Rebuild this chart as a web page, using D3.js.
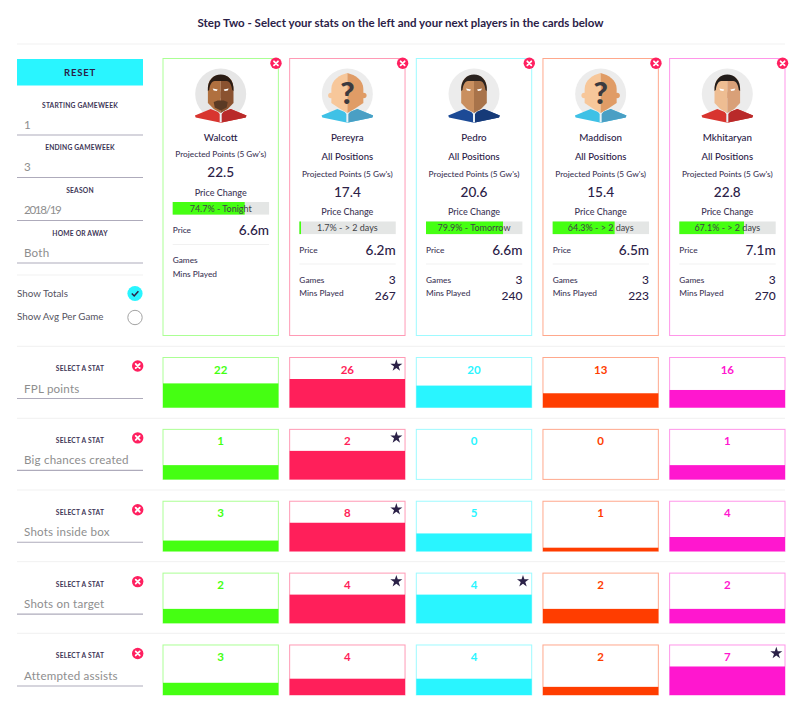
<!DOCTYPE html>
<html>
<head>
<meta charset="utf-8">
<script src="https://cdn.jsdelivr.net/npm/d3@7"></script>
<style>
  html, body { margin: 0; padding: 0; background: #fff; }
  svg { display: block; }
  text { font-family: Lato, "Open Sans", sans-serif; fill: #2b2147; }
  .field { fill: #8e8e8e; font-size: 11.6px; letter-spacing: .2px; }
  .small { font-size: 6.7px; font-weight: 700; text-anchor: middle; letter-spacing: .2px; fill: #3d3556; }
  .lab { font-size: 8.3px; font-weight: 500; fill: #3d3556; }
  .big { font-size: 13.6px; font-weight: 500; }
</style>
</head>
<body>
<div id="chart"></div>
<script>
// player cards
var players = ["Walcott", "Pereyra", "Pedro", "Maddison", "Mkhitaryan"];
var positions = [null, "All Positions", "All Positions", "All Positions", "All Positions"];
var projected = ["22.5", "17.4", "20.6", "15.4", "22.8"];
var changePct = [74.7, 1.7, 79.9, 64.3, 67.1];
var changeWhen = ["Tonight", "> 2 days", "Tomorrow", "> 2 days", "> 2 days"];
var prices = ["6.6m", "6.2m", "6.6m", "6.5m", "7.1m"];
var games = [null, 3, 3, 3, 3];
var mins = [null, 267, 240, 223, 270];

// stat rows
var statNames = ["FPL points", "Big chances created", "Shots inside box", "Shots on target", "Attempted assists"];
var fplPoints = [22, 26, 20, 13, 16];
var bigChances = [1, 2, 0, 0, 1];
var shotsInBox = [3, 8, 5, 1, 4];
var shotsOnTarget = [2, 4, 4, 2, 2];
var attemptedAssists = [3, 4, 4, 2, 7];
var statValues = [fplPoints, bigChances, shotsInBox, shotsOnTarget, attemptedAssists];

// left hand filters
var filterLabels = ["STARTING GAMEWEEK", "ENDING GAMEWEEK", "SEASON", "HOME OR AWAY"];
var filterValues = ["1", "3", "2018/19", "Both"];

var playerColors = ["#45ff12", "#ff1f5a", "#29f5ff", "#ff3d00", "#ff17cf"];
var faces = [
  {bg: "#e6e6e6", light: "#b0703f", dark: "#8a5230", hair: "#2a1c14", shirtL: "#d8352f", shirtD: "#b92a2a", beard: "#5b3a24"},
  {bg: "#ececec", light: "#f7c79a", dark: "#e09c66", mystery: true, shirtL: "#3fc1e6", shirtD: "#4a9fc4"},
  {bg: "#ececec", light: "#c98f5f", dark: "#a8734a", hair: "#2a2320", shirtL: "#1c4a96", shirtD: "#163a78"},
  {bg: "#ececec", light: "#f7c79a", dark: "#e09c66", mystery: true, shirtL: "#3fc1e6", shirtD: "#4a9fc4"},
  {bg: "#ececec", light: "#eebd92", dark: "#d9a078", hair: "#231d1b", shirtL: "#d8352f", shirtD: "#b92a2a"}
];

var svgWidth = 800;
var svgHeight = 705;
var ink = "#2b2147";
var red = "#ff2060";

var svg = d3.select("#chart").append("svg")
  .attr("width", svgWidth)
  .attr("height", svgHeight);

var xScale = d3.scaleBand().domain(players).range([163, 785]).paddingInner(0.089);
var yScale = d3.scaleBand().domain(statNames).range([357.5, 695]).paddingInner(0.304);
var barW = xScale.bandwidth() - 19;
// price change bar, 0 to 100 percent
var changeScale = d3.scaleLinear().domain([0, 100]).range([0, barW]);

function hline(x1, x2, y, color, w) {
  svg.append("line").attr("x1", x1).attr("x2", x2).attr("y1", y).attr("y2", y)
    .attr("stroke", color).attr("stroke-width", w);
}

function removeBtn(g, cx, cy) {
  g.append("circle").attr("cx", cx).attr("cy", cy).attr("r", 5.7).attr("fill", red);
  g.append("path").attr("d", `M${cx - 2},${cy - 2}L${cx + 2},${cy + 2}M${cx + 2},${cy - 2}L${cx - 2},${cy + 2}`)
    .attr("stroke", "#fff").attr("stroke-width", 1.8).attr("stroke-linecap", "round");
}

// title
svg.append("text").attr("x", 400.5).attr("y", 27).attr("text-anchor", "middle")
  .attr("font-size", 11.5).attr("font-weight", 700).attr("letter-spacing", 0.02)
  .text("Step Two - Select your stats on the left and your next players in the cards below");
hline(17, 785, 44, "#f1f1f1", 1);

// reset button
svg.append("rect").attr("x", 17).attr("y", 59).attr("width", 126).attr("height", 26.5).attr("fill", "#29f5ff");
svg.append("text").attr("x", 80).attr("y", 75.5).attr("text-anchor", "middle")
  .attr("font-size", 9.5).attr("font-weight", 700).attr("letter-spacing", 0.8).text("RESET");

// filters
var filterY = [107.5, 150, 192.5, 235.5];
var filterValueY = [129, 171, 214, 257];
var filterLineY = [135, 177.5, 220.5, 263];
filterLabels.forEach(function(label, i) {
  svg.append("text").attr("class", "small").attr("x", 80).attr("y", filterY[i]).text(label);
  svg.append("text").attr("class", "field").attr("x", 24).attr("y", filterValueY[i])
    .attr("textLength", label == "SEASON" ? 38 : null)
    .text(filterValues[i]);
  hline(17, 143, filterLineY[i], "#aeabbb", 1.2);
});
hline(17, 143, 275, "#f1f1f1", 1);

// totals / avg toggles
svg.append("text").attr("x", 17).attr("y", 296.5).attr("font-size", 9.8).style("fill", "#55535f").text("Show Totals");
svg.append("text").attr("x", 17).attr("y", 320).attr("font-size", 9.8).style("fill", "#55535f").text("Show Avg Per Game");
svg.append("circle").attr("cx", 135).attr("cy", 293.5).attr("r", 7.6).attr("fill", "#29f5ff");
svg.append("path").attr("d", "M131.8,293.5L134.2,296L138.4,291.2").attr("fill", "none").attr("stroke", ink).attr("stroke-width", 1.5);
svg.append("circle").attr("cx", 135).attr("cy", 317.5).attr("r", 7.2).attr("fill", "#fff").attr("stroke", "#a3a3a3").attr("stroke-width", 1);

// cartoon head, drawn around the middle of the photo circle
function portrait(g, f) {
  g.append("circle").attr("r", 25.5).attr("fill", f.bg);
  if (f.mystery) {
    g.append("circle").attr("cx", -16.4).attr("cy", 1.5).attr("r", 2.8).attr("fill", f.light);
    g.append("circle").attr("cx", 16.4).attr("cy", 1.5).attr("r", 2.8).attr("fill", f.dark);
  }
  g.append("path").attr("d", "M-25.8,21.5L-10,15L0,19L10,15L25.8,21.5L25,23.5L1,28.5L0,28.5L-1,28.5L-25,23.5Z").attr("fill", f.shirtL);
  g.append("path").attr("d", "M0,19L10,15L25.8,21.5L25,23.5L1,28.5Z").attr("fill", f.shirtD);
  g.append("path").attr("d", "M-5,15L0,19L5,15L1,20V28H-1V20Z").attr("fill", "#e8f0f4");
  var w = f.mystery ? 16 : 12.8;
  g.append("path").attr("d", `M0,${f.mystery ? -21 : -19}C-8,-19 -${w},-14 -${w},-5V9L-7,15L0,19Z`).attr("fill", f.light);
  g.append("path").attr("d", `M0,${f.mystery ? -21 : -19}C8,-19 ${w},-14 ${w},-5V9L7,15L0,19Z`).attr("fill", f.dark);
  if (f.mystery) {
    g.append("text").attr("x", 0).attr("y", 10).attr("text-anchor", "middle")
      .attr("font-size", 31).attr("font-weight", 900).style("fill", "#3b3a40").text("?");
    return;
  }
  g.append("path").attr("d", "M-12.8,-3C-13.5,-14 -7,-19.5 0,-19.5C7,-19.5 13.5,-14 12.8,-3L11.5,-4C11,-9 9,-13 6,-13H-6C-9,-13 -11,-9 -11.5,-4Z").attr("fill", f.hair);
  g.append("path").attr("d", "M-8,-5.5L-3,-4.5L-4,-3L-7,-3.5ZM8,-5.5L3,-4.5L4,-3L7,-3.5Z").attr("fill", "#fff");
  if (f.beard) {
    g.append("path").attr("d", "M-7,8L-3,6.5H3L7,8L6,13.5L0,16.5L-6,13.5Z").attr("fill", f.beard);
  }
  g.append("path").attr("d", "M0,-3L2.5,4H0Z").attr("fill", f.dark);
}

// player cards
players.forEach(function(name, i) {
  var x0 = xScale(name);
  var w = xScale.bandwidth();
  var color = playerColors[i];
  var cx = x0 + w / 2;
  var left = x0 + 9.7;
  var right = left + barW;
  var shift = positions[i] ? 19.5 : 0;
  var g = svg.append("g");

  g.append("rect").attr("x", x0).attr("y", 58.5).attr("width", w).attr("height", 277)
    .attr("fill", "#fff").attr("stroke", color).attr("stroke-opacity", 0.45).attr("stroke-width", 1);
  removeBtn(g, x0 + w - 2.4, 63.3);

  portrait(g.append("g").attr("transform", `translate(${cx},94)`), faces[i]);

  g.append("text").attr("x", cx).attr("y", 140.5).attr("text-anchor", "middle")
    .attr("font-size", 9.8).attr("font-weight", 500).text(name);
  if (positions[i]) {
    g.append("text").attr("x", cx).attr("y", 160).attr("text-anchor", "middle")
      .attr("font-size", 9.5).attr("font-weight", 500).text(positions[i]);
  }
  g.append("text").attr("x", cx).attr("y", 157 + shift).attr("text-anchor", "middle")
    .attr("class", "lab").text("Projected Points (5 Gw's)");
  g.append("text").attr("x", cx).attr("y", 177 + shift).attr("text-anchor", "middle")
    .attr("class", "big").text(projected[i]);
  g.append("text").attr("x", cx).attr("y", 195.5 + shift).attr("text-anchor", "middle")
    .attr("class", "lab").style("font-size", "9px").text("Price Change");

  g.append("rect").attr("x", left).attr("y", 202 + shift).attr("width", barW).attr("height", 12.6).attr("fill", "#e4e6e5");
  g.append("rect").attr("x", left).attr("y", 202 + shift).attr("width", changeScale(changePct[i])).attr("height", 12.6).attr("fill", playerColors[0]);
  g.append("text").attr("x", cx).attr("y", 211.5 + shift).attr("text-anchor", "middle")
    .attr("font-size", 9).style("fill", "#3f4245").text(changePct[i] + "% - " + changeWhen[i]);

  g.append("text").attr("x", left).attr("y", 233 + shift).attr("class", "lab").text("Price");
  g.append("text").attr("x", right).attr("y", 235 + shift).attr("text-anchor", "end").attr("class", "big").text(prices[i]);
  g.append("line").attr("x1", left).attr("x2", right).attr("y1", 244.5 + shift).attr("y2", 244.5 + shift).attr("stroke", "#f1f1f1");

  g.append("text").attr("x", left).attr("y", 263 + shift).attr("class", "lab").text("Games");
  g.append("text").attr("x", left).attr("y", 276.5 + shift).attr("class", "lab").text("Mins Played");
  if (games[i] !== null) {
    g.append("text").attr("x", right).attr("y", 264.5 + shift).attr("text-anchor", "end").attr("font-size", 12).attr("font-weight", 500).text(games[i]);
    g.append("text").attr("x", right).attr("y", 280 + shift).attr("text-anchor", "end").attr("font-size", 12).attr("font-weight", 500).text(mins[i]);
  }
});

// stat rows, each with its own scale so the top value reaches the same height
var star = d3.symbol().type(d3.symbolStar).size(45);
var rowDividers = [346.3, 418.3, 490, 561.7, 633.3];
rowDividers.forEach(function(y) { hline(17, 785, y, "#f1f1f1", 1); });

statNames.forEach(function(stat, r) {
  var top = yScale(stat);
  var h = yScale.bandwidth();
  var values = statValues[r];
  var maxVal = d3.max(values);
  var barScale = d3.scaleLinear().domain([0, maxVal / 0.57]).range([0, h]);

  svg.append("text").attr("class", "small").attr("x", 80).attr("y", top + 13.5).text("SELECT A STAT");
  removeBtn(svg, 137.7, top + 8.5);
  svg.append("text").attr("class", "field").attr("x", 24).attr("y", top + 35).text(stat);
  hline(17, 143, top + 41, "#aeabbb", 1.2);

  var cells = svg.append("g").selectAll("g")
    .data(values)
    .enter()
    .append("g")
    .attr("transform", (d, i) => `translate(${xScale(players[i])},${top})`);

  cells.append("rect")
    .attr("y", d => h - barScale(d))
    .attr("width", xScale.bandwidth())
    .attr("height", d => barScale(d))
    .attr("fill", (d, i) => playerColors[i]);

  cells.append("rect")
    .attr("width", xScale.bandwidth())
    .attr("height", h)
    .attr("fill", "none")
    .attr("stroke", (d, i) => playerColors[i])
    .attr("stroke-opacity", 0.45);

  cells.append("text")
    .attr("x", xScale.bandwidth() / 2)
    .attr("y", 16)
    .attr("text-anchor", "middle")
    .attr("font-size", 11.5)
    .attr("font-weight", 700)
    .style("fill", (d, i) => playerColors[i])
    .text(d => d);

  cells.filter(d => d === maxVal)
    .append("path")
    .attr("d", star)
    .attr("transform", `translate(${xScale.bandwidth() - 8.7},8.2)`)
    .attr("fill", ink);
});
</script>
</body>
</html>
